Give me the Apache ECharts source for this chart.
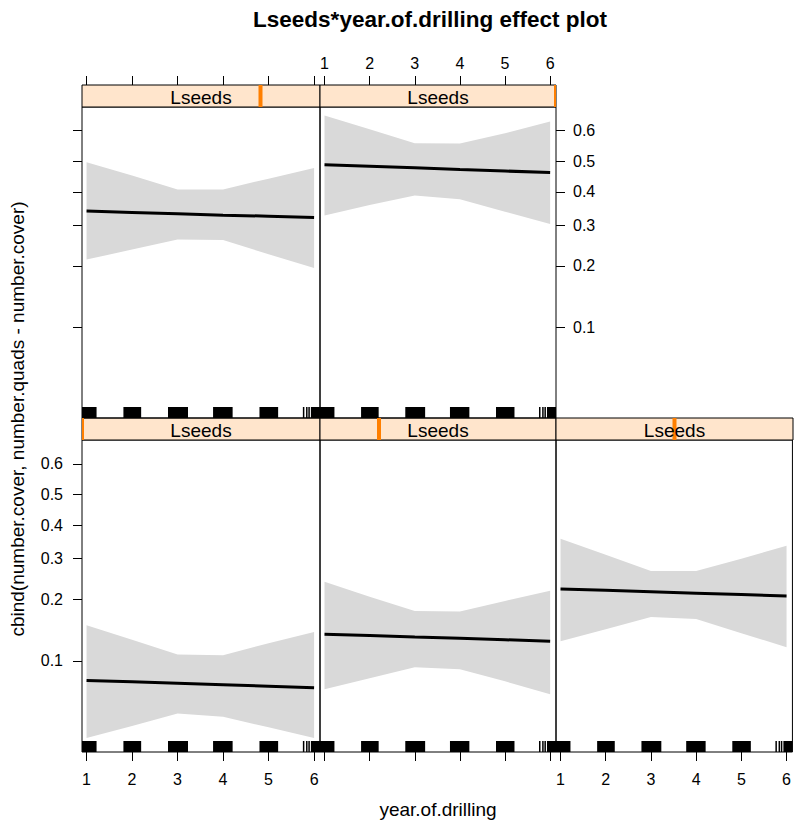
<!DOCTYPE html>
<html>
<head>
<meta charset="utf-8">
<script src="https://cdn.jsdelivr.net/npm/echarts@6/dist/echarts.min.js"></script>
<style>
  html, body { margin: 0; padding: 0; background: #fff; }
  #chart { width: 794px; height: 823px; }
</style>
</head>
<body>
<div id="chart"></div>
<script>
// x values at which the effect is evaluated, and axis tick values
const years = [1, 2, 3, 4, 5, 6];
const yearTicks = [1, 2, 3, 4, 5, 6];
const probTicks = [0.1, 0.2, 0.3, 0.4, 0.5, 0.6];

// Lseeds value of each panel, as a fraction of the Lseeds range (strip indicator)
const lseedsLevels = [0, 0.25, 0.5, 0.75, 1];

// fitted proportion with lower / upper confidence limits, one set per Lseeds level
const fit1   = [0.0791, 0.0778, 0.0764, 0.0750, 0.0737, 0.0724];
const lower1 = [0.0386, 0.0450, 0.0526, 0.0504, 0.0442, 0.0386];
const upper1 = [0.151, 0.128, 0.108, 0.107, 0.123, 0.140];

const fit2   = [0.1366, 0.1345, 0.1323, 0.1302, 0.1281, 0.1261];
const lower2 = [0.0709, 0.0812, 0.0927, 0.0904, 0.0782, 0.0667];
const upper2 = [0.240, 0.206, 0.177, 0.176, 0.197, 0.219];

const fit3   = [0.2233, 0.2202, 0.2170, 0.2138, 0.2107, 0.2076];
const lower3 = [0.1261, 0.1446, 0.1655, 0.1618, 0.1382, 0.1175];
const upper3 = [0.358, 0.311, 0.267, 0.267, 0.300, 0.337];

const fit4   = [0.341, 0.337, 0.333, 0.329, 0.326, 0.322];
const lower4 = [0.214, 0.237, 0.262, 0.261, 0.226, 0.196];
const upper4 = [0.497, 0.453, 0.408, 0.408, 0.443, 0.478];

const fit5   = [0.489, 0.484, 0.479, 0.473, 0.468, 0.463];
const lower5 = [0.328, 0.359, 0.389, 0.377, 0.339, 0.304];
const upper5 = [0.647, 0.605, 0.560, 0.559, 0.592, 0.629];

// rug of observed year.of.drilling values: dense runs and isolated values
const rugBlocks = [[0.78, 1.22], [1.81, 2.2], [2.79, 3.23], [3.78, 4.21], [4.8, 5.21], [5.93, 6.3]];
const rugLines = [5.77, 5.84, 5.89];

const logit = p => Math.log(p / (1 - p));
const invLogit = v => 1 / (1 + Math.exp(-v));

const FONT = 'Liberation Sans, Arial, sans-serif';
const X_MIN = 0.9, X_MAX = 6.13;
const Y_MIN = -3.40, Y_MAX = 0.72;
const colLeft = [82, 320, 556], colRight = [320, 556, 793];
const stripTop = [85, 418], plotTop = [107, 440], plotBottom = [418, 752];
const RUG_H = 11;

const panels = [
  { col: 0, row: 1, level: lseedsLevels[0], fit: fit1, lower: lower1, upper: upper1 },
  { col: 1, row: 1, level: lseedsLevels[1], fit: fit2, lower: lower2, upper: upper2 },
  { col: 2, row: 1, level: lseedsLevels[2], fit: fit3, lower: lower3, upper: upper3 },
  { col: 0, row: 0, level: lseedsLevels[3], fit: fit4, lower: lower4, upper: upper4 },
  { col: 1, row: 0, level: lseedsLevels[4], fit: fit5, lower: lower5, upper: upper5 }
];

const grid = [], xAxis = [], yAxis = [], series = [], graphic = [];
const tickStyle = { color: '#000', width: 1 };
const labelStyle = { fontFamily: FONT, fontSize: 16, color: '#000' };
const noLine = { show: false, onZero: false };

function clipTo(params, r) {
  const cs = params.coordSys;
  return echarts.graphic.clipRectByRect(r, { x: cs.x, y: cs.y, width: cs.width, height: cs.height });
}

panels.forEach(p => {
  const left = colLeft[p.col];
  const width = colRight[p.col] - left;

  // plot area and strip above it
  const gPlot = grid.length;
  grid.push({ left, top: plotTop[p.row], width, height: plotBottom[p.row] - plotTop[p.row],
              show: true, borderColor: '#000', borderWidth: 1, backgroundColor: 'transparent' });
  const gStrip = grid.length;
  grid.push({ left, top: stripTop[p.row], width, height: plotTop[p.row] - stripTop[p.row],
              show: true, borderColor: '#000', borderWidth: 1, backgroundColor: '#FFE5CC' });

  const xPlot = xAxis.length;
  xAxis.push({
    type: 'value', gridIndex: gPlot, min: X_MIN, max: X_MAX, position: 'bottom',
    axisLine: noLine, splitLine: { show: false },
    axisTick: { show: p.row === 1, customValues: yearTicks, length: 9, lineStyle: tickStyle },
    axisLabel: { show: p.row === 1 && p.col !== 1, customValues: yearTicks, margin: 19,
                 formatter: v => String(Math.round(v)), ...labelStyle }
  });
  const xLevel = xAxis.length;
  xAxis.push({ type: 'value', gridIndex: gStrip, min: 0, max: 1, show: false, axisLine: noLine });
  if (p.row === 0) {
    xAxis.push({
      type: 'value', gridIndex: gStrip, min: X_MIN, max: X_MAX, position: 'top',
      axisLine: noLine, splitLine: { show: false },
      axisTick: { show: true, customValues: yearTicks, length: 9, lineStyle: tickStyle },
      axisLabel: { show: p.col === 1, customValues: yearTicks, margin: 14,
                   formatter: v => String(Math.round(v)), ...labelStyle }
    });
  }

  const yPlot = yAxis.length;
  const hasYAxis = p.col === 0 || (p.col === 1 && p.row === 0);
  yAxis.push({
    type: 'value', gridIndex: gPlot, min: Y_MIN, max: Y_MAX,
    position: p.col === 0 ? 'left' : 'right', show: hasYAxis,
    axisLine: noLine, splitLine: { show: false },
    axisTick: { show: true, customValues: probTicks.map(logit), length: 9, lineStyle: tickStyle },
    axisLabel: { show: (p.col === 0 && p.row === 1) || (p.col === 1 && p.row === 0),
                 customValues: probTicks.map(logit), margin: p.col === 0 ? 19 : 17,
                 formatter: v => invLogit(v).toFixed(1), ...labelStyle }
  });
  const yStrip = yAxis.length;
  yAxis.push({ type: 'value', gridIndex: gStrip, min: 0, max: 1, show: false, axisLine: noLine });

  // confidence band
  series.push({
    type: 'custom', xAxisIndex: xPlot, yAxisIndex: yPlot, silent: true, z: 1,
    data: years.map((x, k) => [x, logit(p.lower[k]), logit(p.upper[k])]),
    renderItem: (params, api) => {
      if (params.dataIndex !== 0) return;
      const pts = [];
      years.forEach((x, k) => pts.push(api.coord([x, logit(p.upper[k])])));
      for (let k = years.length - 1; k >= 0; k--) pts.push(api.coord([years[k], logit(p.lower[k])]));
      return { type: 'polygon', shape: { points: pts }, style: { fill: '#D9D9D9' } };
    }
  });

  // fitted effect
  series.push({
    type: 'line', xAxisIndex: xPlot, yAxisIndex: yPlot, z: 3, silent: true,
    symbol: 'none', showSymbol: false,
    lineStyle: { color: '#000', width: 3 },
    data: years.map((x, k) => [x, logit(p.fit[k])])
  });

  // rug along the bottom of the panel
  series.push({
    type: 'custom', xAxisIndex: xPlot, yAxisIndex: yPlot, silent: true, z: 4,
    data: rugBlocks,
    renderItem: (params, api) => {
      const a = api.coord([api.value(0), Y_MIN]);
      const b = api.coord([api.value(1), Y_MIN]);
      const r = clipTo(params, { x: a[0], y: a[1] - RUG_H, width: b[0] - a[0], height: RUG_H });
      return r ? { type: 'rect', shape: r, style: { fill: '#000' } } : null;
    }
  });
  series.push({
    type: 'custom', xAxisIndex: xPlot, yAxisIndex: yPlot, silent: true, z: 4,
    data: rugLines.map(v => [v]),
    renderItem: (params, api) => {
      const a = api.coord([api.value(0), Y_MIN]);
      const r = clipTo(params, { x: a[0] - 0.75, y: a[1] - RUG_H, width: 1.5, height: RUG_H });
      return r ? { type: 'rect', shape: r, style: { fill: '#000' } } : null;
    }
  });

  // Lseeds level indicator in the strip
  series.push({
    type: 'custom', xAxisIndex: xLevel, yAxisIndex: yStrip, silent: true, z: 2,
    data: [[p.level]],
    renderItem: (params, api) => {
      const t = api.coord([api.value(0), 1]);
      const b = api.coord([api.value(0), 0]);
      const r = clipTo(params, { x: t[0] - 2, y: t[1], width: 4, height: b[1] - t[1] });
      return r ? { type: 'rect', shape: r, style: { fill: '#FF7F00' } } : null;
    }
  });

  graphic.push({
    type: 'text', z: 100, silent: true,
    x: (colLeft[p.col] + colRight[p.col]) / 2, y: (stripTop[p.row] + plotTop[p.row]) / 2 + 1,
    style: { text: 'Lseeds', font: '19px ' + FONT, fill: '#000',
             textAlign: 'center', textVerticalAlign: 'middle' }
  });
});

graphic.push({
  type: 'text', z: 100, silent: true, x: 430, y: 19,
  style: { text: 'Lseeds*year.of.drilling effect plot', font: 'bold 22.5px ' + FONT, fill: '#000',
           textAlign: 'center', textVerticalAlign: 'middle' }
});
graphic.push({
  type: 'text', z: 100, silent: true, x: 438, y: 809,
  style: { text: 'year.of.drilling', font: '19px ' + FONT, fill: '#000',
           textAlign: 'center', textVerticalAlign: 'middle' }
});
graphic.push({
  type: 'text', z: 100, silent: true, x: 17, y: 419, rotation: Math.PI / 2,
  style: { text: 'cbind(number.cover, number.quads - number.cover)', font: '19px ' + FONT, fill: '#000',
           textAlign: 'center', textVerticalAlign: 'middle' }
});

const chart = echarts.init(document.getElementById('chart'), null, { renderer: 'svg' });
chart.setOption({
  animation: false,
  backgroundColor: '#fff',
  grid, xAxis, yAxis, series, graphic
});
</script>
</body>
</html>
